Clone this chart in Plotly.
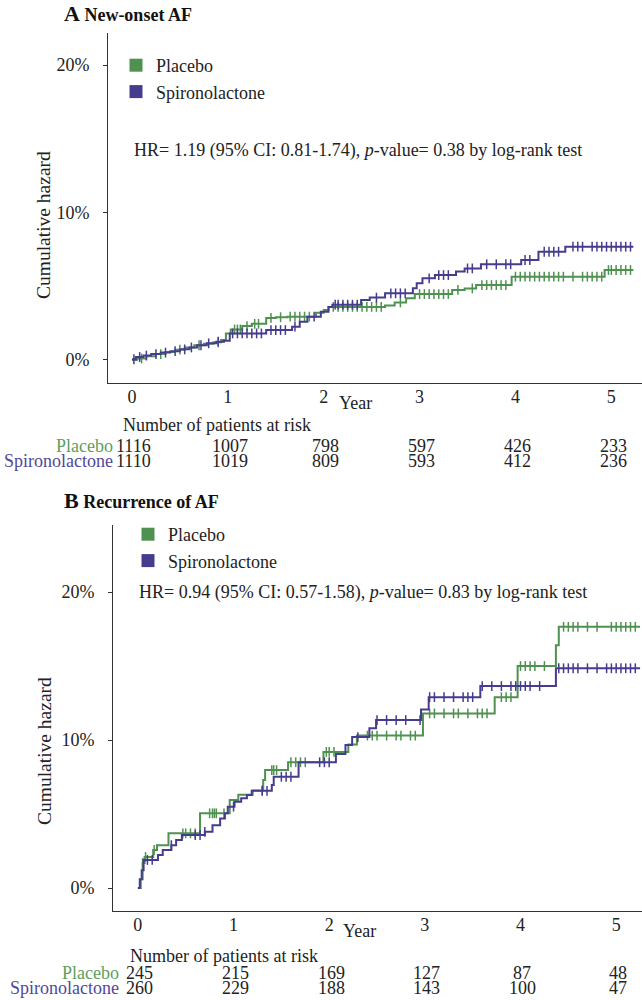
import plotly.graph_objects as go

FONT = "Liberation Serif"
GREEN = "#4E9150"
PURPLE = "#463C8E"
GREEN_TXT = "#5E9E5E"
PURPLE_TXT = "#51479A"
AXIS = "#333333"
TXT = "#222222"

years = [0, 1, 2, 3, 4, 5]
groups = ["Placebo", "Spironolactone"]
pct_ticks = [0, 10, 20]
pct_labels = ["0%", "10%", "20%"]

# ---------------- Panel A: New-onset AF ----------------
a_placebo_t = [0, 0.05, 0.15, 0.25, 0.35, 0.45, 0.55, 0.65, 0.75, 0.85, 0.93, 0.98, 1.03, 1.15, 1.25,
               1.40, 1.50, 1.62, 1.92, 2.00, 2.05, 2.64, 2.74, 2.86, 2.95, 3.34, 3.47, 3.59, 3.96, 4.93, 5.23]
a_placebo_h = [0, 0.1, 0.25, 0.4, 0.55, 0.7, 0.85, 1.0, 1.1, 1.2, 1.35, 1.8, 2.07, 2.3, 2.45,
               2.85, 2.9, 2.94, 3.2, 3.39, 3.6, 3.7, 3.9, 4.18, 4.47, 4.75, 4.85, 5.08, 5.65, 6.1, 6.1]
a_spiro_t = [0, 0.04, 0.12, 0.2, 0.3, 0.4, 0.5, 0.6, 0.68, 0.78, 0.88, 0.96, 1.02, 1.4, 1.67, 1.75,
             1.83, 1.97, 2.05, 2.09, 2.39, 2.48, 2.64, 2.93, 2.97, 3.03, 3.16, 3.38, 3.47, 3.64, 4.06,
             4.24, 4.52, 5.23]
a_spiro_h = [0.05, 0.2, 0.3, 0.4, 0.5, 0.6, 0.72, 0.85, 1.0, 1.13, 1.24, 1.3, 1.8, 2.03, 2.26, 2.6,
             2.94, 3.27, 3.6, 3.75, 4.07, 4.23, 4.52, 4.86, 5.2, 5.54, 5.76, 6.0, 6.21, 6.49, 6.78,
             7.34, 7.68, 7.68]
a_placebo_cens = [0.1, 0.3, 0.5, 0.7, 0.9, 1.07, 1.1, 1.13, 1.2, 1.28, 1.32, 1.45, 1.55, 1.65, 1.7,
                  1.75, 1.8, 1.85, 2.1, 2.15, 2.2, 2.25, 2.3, 2.35, 2.4, 2.45, 2.5, 2.55, 2.6, 2.8,
                  3.0, 3.05, 3.1, 3.15, 3.2, 3.25, 3.3, 3.4, 3.55, 3.65, 3.7, 3.75, 3.8, 3.85, 3.9,
                  4.0, 4.05, 4.1, 4.15, 4.2, 4.25, 4.3, 4.35, 4.4, 4.45, 4.5, 4.6, 4.7, 4.75, 4.8,
                  4.85, 4.9, 4.97, 5.0, 5.05, 5.1, 5.15, 5.2]
a_spiro_cens = [0.02, 0.08, 0.15, 0.25, 0.35, 0.45, 0.55, 0.62, 0.72, 0.8, 0.9, 1.05, 1.1, 1.15,
                1.2, 1.25, 1.3, 1.35, 1.45, 1.5, 1.55, 1.6, 1.7, 1.9, 2.12, 2.15, 2.2, 2.25, 2.3,
                2.35, 2.55, 2.7, 2.75, 2.8, 2.85, 3.1, 3.2, 3.25, 3.3, 3.5, 3.55, 3.7, 3.8, 3.9,
                3.95, 4.1, 4.15, 4.3, 4.35, 4.4, 4.45, 4.6, 4.65, 4.7, 4.8, 4.85, 4.9, 4.95, 5.0,
                5.05, 5.1, 5.15, 5.2]
a_risk_placebo = [1116, 1007, 798, 597, 426, 233]
a_risk_spiro = [1110, 1019, 809, 593, 412, 236]
a_hr_text = "HR= 1.19 (95% CI: 0.81-1.74), <i>p</i>-value= 0.38 by log-rank test"

# ---------------- Panel B: Recurrence of AF ----------------
b_placebo_t = [0, 0.03, 0.05, 0.07, 0.16, 0.2, 0.32, 0.65, 0.96, 1.05, 1.2, 1.31, 1.33, 1.57, 1.94,
               2.2, 2.29, 2.98, 3.73, 3.97, 4.37, 4.4, 5.25]
b_placebo_h = [0, 0.6, 1.7, 2.1, 2.57, 2.9, 3.7, 5.05, 5.95, 6.3, 6.6, 7.3, 7.97, 8.5, 9.2,
               9.7, 10.3, 11.8, 12.9, 15.0, 16.4, 17.65, 17.65]
b_spiro_t = [0, 0.02, 0.04, 0.06, 0.21, 0.26, 0.35, 0.4, 0.46, 0.7, 0.78, 0.86, 0.91, 0.94, 1.01,
             1.08, 1.14, 1.19, 1.4, 1.42, 1.68, 2.07, 2.17, 2.24, 2.42, 2.49, 2.96, 3.04, 3.58,
             4.37, 5.25]
b_spiro_h = [0, 0.6, 1.2, 1.9, 2.23, 2.57, 2.9, 3.24, 3.58, 3.8, 4.25, 4.7, 5.05, 5.5, 5.83,
             6.06, 6.28, 6.57, 6.96, 7.52, 8.5, 9.05, 9.66, 10.2, 10.8, 11.35, 12.07, 12.9, 13.65,
             14.85, 14.85]
b_placebo_cens = [0.05, 0.08, 0.17, 0.47, 0.5, 0.55, 0.6, 0.75, 0.78, 0.8, 0.82, 0.9, 1.3, 1.4,
                  1.42, 1.45, 1.6, 1.65, 1.7, 1.75, 1.97, 2.0, 2.05, 2.4, 2.45, 2.5, 2.6, 2.7,
                  2.75, 2.85, 2.9, 3.05, 3.1, 3.2, 3.3, 3.35, 3.45, 3.55, 3.6, 3.65, 3.8, 3.85,
                  3.9, 4.0, 4.05, 4.1, 4.15, 4.25, 4.45, 4.5, 4.55, 4.6, 4.7, 4.8, 4.95, 5.0,
                  5.05, 5.1, 5.15, 5.2]
b_spiro_cens = [0.1, 0.15, 0.35, 0.6, 0.65, 0.7, 1.0, 1.3, 1.35, 1.5, 1.55, 1.6, 1.9, 1.95, 2.0,
                2.3, 2.5, 2.6, 2.7, 2.8, 2.95, 3.05, 3.1, 3.2, 3.3, 3.4, 3.45, 3.5, 3.6, 3.7, 3.8,
                3.9, 3.95, 4.0, 4.05, 4.1, 4.2, 4.4, 4.45, 4.5, 4.55, 4.6, 4.7, 4.8, 4.9, 4.95,
                5.0, 5.05, 5.1, 5.15, 5.2]
b_risk_placebo = [245, 215, 169, 127, 87, 48]
b_risk_spiro = [260, 229, 188, 143, 100, 47]
b_hr_text = "HR= 0.94 (95% CI: 0.57-1.58), <i>p</i>-value= 0.83 by log-rank test"


def step_at(ts, hs, c):
    val = hs[0]
    for t, h in zip(ts, hs):
        if t <= c:
            val = h
    return val


fig = go.Figure()


def add_curves(ts, hs, cens, color, xa, ya):
    fig.add_trace(go.Scatter(x=ts, y=hs, mode="lines", line=dict(color=color, width=2, shape="hv"),
                             showlegend=False, xaxis=xa, yaxis=ya, hoverinfo="skip"))
    fig.add_trace(go.Scatter(x=cens, y=[step_at(ts, hs, c) for c in cens], mode="markers",
                             marker=dict(symbol="line-ns-open", size=7, color=color,
                                         line=dict(color=color, width=1.5)),
                             showlegend=False, xaxis=xa, yaxis=ya, hoverinfo="skip"))


add_curves(a_placebo_t, a_placebo_h, a_placebo_cens, GREEN, "x", "y")
add_curves(a_spiro_t, a_spiro_h, a_spiro_cens, PURPLE, "x", "y")
add_curves(b_placebo_t, b_placebo_h, b_placebo_cens, GREEN, "x2", "y2")
add_curves(b_spiro_t, b_spiro_h, b_spiro_cens, PURPLE, "x2", "y2")

# legend entries (square swatches)
for name, col in zip(groups, [GREEN, PURPLE]):
    fig.add_trace(go.Scatter(x=[None], y=[None], mode="markers", name=name,
                             marker=dict(symbol="square", size=13, color=col),
                             xaxis="x", yaxis="y", legend="legend"))
for name, col in zip(groups, [GREEN, PURPLE]):
    fig.add_trace(go.Scatter(x=[None], y=[None], mode="markers", name=name,
                             marker=dict(symbol="square", size=13, color=col),
                             xaxis="x2", yaxis="y2", legend="legend2"))

W, H = 642, 1000


def px(xp):
    return xp / W


def py(yp):
    return 1 - yp / H


FS = 18
xcommon = dict(tickvals=years, showline=True, linecolor=AXIS, linewidth=1, ticks="",
               ticklabelstandoff=-3,
               showgrid=False, zeroline=False, tickfont=dict(family=FONT, size=FS, color=TXT))
ycommon = dict(tickvals=pct_ticks, ticktext=pct_labels, showline=True, linecolor=AXIS, linewidth=1,
               ticks="outside", ticklen=4, tickcolor=AXIS, showgrid=False, zeroline=False,
               ticklabelstandoff=10, tickfont=dict(family=FONT, size=FS, color=TXT))

fig.update_layout(
    width=W, height=H, margin=dict(l=0, r=0, t=0, b=0),
    paper_bgcolor="white", plot_bgcolor="white",
    font=dict(family=FONT, size=FS, color=TXT),
    xaxis=dict(domain=[px(108), 1], anchor="y", range=[-0.25, 5.32], **xcommon),
    yaxis=dict(domain=[py(383), py(33)], anchor="x", range=[-1.56, 22.17], **ycommon),
    xaxis2=dict(domain=[px(113), 1], anchor="y2", range=[-0.26, 5.27], **xcommon),
    yaxis2=dict(domain=[py(911), py(525)], anchor="x2", range=[-1.55, 24.53], **ycommon),
    legend=dict(x=px(116), y=py(47), xanchor="left", yanchor="top", bgcolor="rgba(0,0,0,0)",
                font=dict(family=FONT, size=18, color=TXT), itemsizing="trace"),
    legend2=dict(x=px(128), y=py(516), xanchor="left", yanchor="top", bgcolor="rgba(0,0,0,0)",
                 font=dict(family=FONT, size=18, color=TXT), itemsizing="trace"),
    showlegend=True,
)

ann = []


def note(x, y, text, xref="paper", xanchor="left", yanchor="middle", size=FS, color=TXT, **kw):
    d = dict(x=x, y=y, xref=xref, yref="paper", xanchor=xanchor, yanchor=yanchor, text=text,
             showarrow=False, borderpad=0, font=dict(family=FONT, size=size, color=color))
    d.update(kw)
    ann.append(d)


# panel titles
note(px(63), 1.0, "<b><span style='font-size:22px'>A</span> New-onset AF</b>", yanchor="top",
     size=18, color="#111")
note(px(63), py(500), "<b><span style='font-size:22px'>B</span> Recurrence of AF</b>",
     size=18, color="#111")
# HR texts
note(px(133), py(150), a_hr_text)
note(px(138), py(592), b_hr_text)
# y-axis titles
for ycen in [225, 751]:
    note(px(44), py(ycen), "Cumulative hazard", xanchor="center", size=19.5, textangle=-90)
# x-axis titles
note(2.33, py(403), "Year", xref="x", xanchor="center")
note(2.32, py(931), "Year", xref="x2", xanchor="center")


# risk tables
def risk_table(xref, label_right, head_left, y_head, y_rows, rows):
    note(px(head_left), py(y_head), "Number of patients at risk")
    for (name, col, vals), yr in zip(rows, y_rows):
        note(px(label_right), py(yr), name, xanchor="right", color=col)
        for yv, v in zip(years, vals):
            note(yv + 0.02, py(yr), str(v), xref=xref, xanchor="center")


risk_table("x", 114, 122, 425, [446, 461],
           [(groups[0], GREEN_TXT, a_risk_placebo), (groups[1], PURPLE_TXT, a_risk_spiro)])
risk_table("x2", 120, 129, 956, [973, 988],
           [(groups[0], GREEN_TXT, b_risk_placebo), (groups[1], PURPLE_TXT, b_risk_spiro)])

fig.update_layout(annotations=ann)
fig.write_html("out.html", config={"displayModeBar": False},
               post_script="document.body.style.margin='0px';")
